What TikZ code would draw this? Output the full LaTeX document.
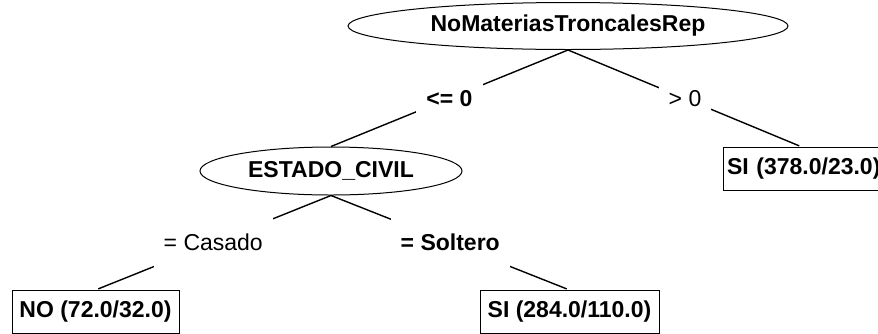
\documentclass[tikz,border=0pt]{standalone}
\usepackage{fontspec}
\setmainfont{Liberation Sans}
\usetikzlibrary{shapes.geometric}
\begin{document}
\begin{tikzpicture}[x=1pt,y=-1pt,
  plain/.style={font=\fontsize{23}{25}\selectfont},
  heavy/.style={font=\fontsize{23}{25}\selectfont\bfseries},
  test/.style={ellipse,draw,line width=1pt,inner sep=0pt,heavy},
  leaf/.style={rectangle,draw,line width=1pt,anchor=north,minimum height=43pt,inner sep=0pt,heavy},
  branch/.style={line width=1.4pt},
  toleaf/.style={branch,shorten >=3pt},
  cond/.style={fill=white,inner xsep=10pt,inner ysep=0pt,minimum height=50pt,plain},
  bcond/.style={cond,heavy}]
\useasboundingbox (0,0) rectangle (878,333);
\clip (0,0) rectangle (878,333);

% decision nodes
\node[test,minimum width=440pt,minimum height=47pt] (root) at (568,26) {NoMateriasTroncalesRep};
\node[test,minimum width=262pt,minimum height=48pt] (civil) at (331,171) {ESTADO\_CIVIL};

% leaves
\node[leaf,minimum width=158pt,text width=158pt,align=left] (hi) at (802,147) {\hspace*{4pt}SI (378.0/23.0)};
\node[leaf,minimum width=167pt] (no) at (95.5,290) {NO (72.0/32.0)};
\node[leaf,minimum width=179pt] (si) at (569.5,290) {SI (284.0/110.0)};

% branches with their conditions
\draw[branch] (root.south) -- node[bcond] {<= 0} (civil.north);
\draw[toleaf] (root.south) -- node[cond] {> 0} (hi.north);
\draw[toleaf] (civil.south) -- node[cond] {= Casado} (no.north);
\draw[toleaf] (civil.south) -- node[bcond] {= Soltero} (si.north);
\end{tikzpicture}
\end{document}
